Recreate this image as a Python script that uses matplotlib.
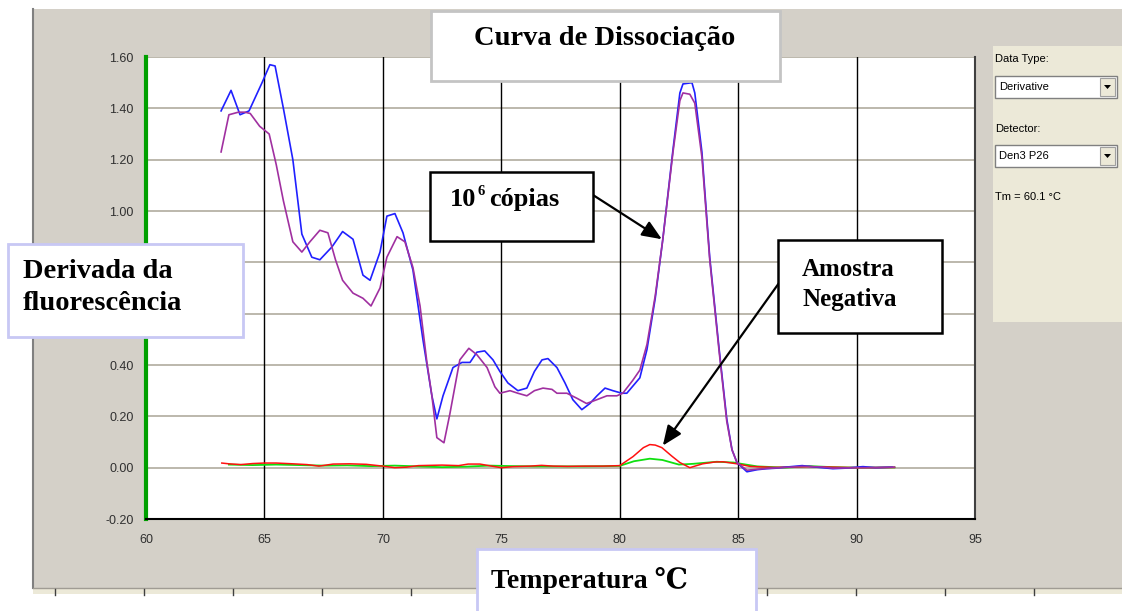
import matplotlib.pyplot as plt
from matplotlib.patches import Rectangle, Polygon

# melt curve derivative, 10^6 copies (two replicates)
temp_a = [63.17, 63.59, 63.97, 64.35, 64.9, 65.23, 65.45, 65.8, 66.2, 66.58, 67.0, 67.34,
          67.85, 68.3, 68.74, 69.16, 69.46, 69.88, 70.17, 70.51, 70.85, 71.27, 71.69, 72.07,
          72.28, 72.54, 72.96, 73.34, 73.68, 73.97, 74.3, 74.65, 74.94, 75.28, 75.7, 76.08,
          76.4, 76.72, 76.97, 77.35, 77.69, 78.02, 78.4, 78.74, 79.04, 79.38, 79.71, 80.09,
          80.3, 80.85, 81.15, 81.5, 81.82, 82.25, 82.54, 82.67, 83.05, 83.17, 83.47, 83.8,
          84.2, 84.52, 84.74, 84.95, 85.37, 85.8, 86.2, 86.6, 87.0, 87.7, 88.2, 89.0, 89.5,
          90.27, 90.8, 91.5]
deriv_a = [1.39, 1.47, 1.375, 1.39, 1.50, 1.57, 1.565, 1.40, 1.20, 0.91, 0.82, 0.81,
           0.86, 0.92, 0.89, 0.75, 0.73, 0.84, 0.98, 0.99, 0.915, 0.77, 0.50, 0.28,
           0.19, 0.28, 0.39, 0.41, 0.41, 0.45, 0.455, 0.42, 0.375, 0.33, 0.30, 0.31,
           0.375, 0.42, 0.425, 0.39, 0.33, 0.265, 0.226, 0.25, 0.28, 0.31, 0.30, 0.29,
           0.29, 0.35, 0.46, 0.66, 0.89, 1.24, 1.46, 1.495, 1.50, 1.46, 1.23, 0.82,
           0.46, 0.19, 0.07, 0.02, -0.016, -0.008, -0.004, -0.002, 0.002, 0.008, 0.003, -0.004, -0.002,
           0.004, 0.0, 0.002]

temp_b = [63.17, 63.5, 63.9, 64.18, 64.4, 64.8, 65.2, 65.5, 65.8, 66.2, 66.58, 66.92,
          67.34, 67.68, 68.0, 68.3, 68.74, 69.16, 69.5, 69.88, 70.17, 70.6, 70.93, 71.27,
          71.57, 71.86, 72.07, 72.28, 72.58, 72.83, 73.25, 73.63, 73.97, 74.4, 74.73, 74.94,
          75.37, 75.7, 76.08, 76.4, 76.76, 77.14, 77.35, 77.77, 78.2, 78.6, 79.04, 79.46,
          79.88, 80.13, 80.55, 80.85, 81.15, 81.5, 81.82, 82.25, 82.54, 82.67, 82.96, 83.17,
          83.47, 83.8, 84.2, 84.52, 84.74, 84.95, 85.37, 85.8, 86.2, 87.0, 87.7, 88.5, 89.0,
          90.0, 90.8, 91.6]
deriv_b = [1.23, 1.375, 1.385, 1.385, 1.38, 1.33, 1.30, 1.18, 1.04, 0.88, 0.84, 0.88,
           0.925, 0.915, 0.81, 0.73, 0.68, 0.66, 0.63, 0.70, 0.82, 0.90, 0.88, 0.78,
           0.63, 0.41, 0.28, 0.117, 0.097, 0.21, 0.42, 0.465, 0.44, 0.39, 0.315, 0.29,
           0.30, 0.29, 0.28, 0.30, 0.31, 0.305, 0.29, 0.29, 0.27, 0.25, 0.265, 0.28,
           0.28, 0.29, 0.34, 0.38, 0.48, 0.67, 0.89, 1.23, 1.43, 1.46, 1.455, 1.42,
           1.21, 0.81, 0.45, 0.18, 0.07, 0.02, -0.01, -0.006, -0.003, 0.001, 0.005, 0.003, -0.002,
           0.0, 0.0, 0.002]

# negative sample (two replicates)
temp_c = [63.2, 63.5, 64.0, 64.5, 65.0, 65.5, 66.2, 66.8, 67.3, 67.9, 68.6, 69.3, 70.0,
          70.5, 71.0, 71.5, 72.5, 73.2, 73.6, 74.1, 74.6, 75.0, 75.5, 76.2, 76.7, 77.2,
          77.8, 78.5, 79.3, 80.0, 80.56, 81.0, 81.27, 81.5, 81.78, 82.2, 82.54, 82.96,
          83.5, 84.0, 84.36, 84.95, 85.5, 86.5, 88.0, 90.0, 91.6]
deriv_c = [0.018, 0.015, 0.012, 0.016, 0.018, 0.018, 0.015, 0.012, 0.006, 0.014, 0.015, 0.013, 0.006,
           0.0, 0.002, 0.008, 0.01, 0.008, 0.014, 0.014, 0.006, 0.0, 0.004, 0.006, 0.009, 0.006,
           0.005, 0.006, 0.006, 0.008, 0.043, 0.078, 0.09, 0.088, 0.078, 0.045, 0.02, 0.0,
           0.015, 0.022, 0.023, 0.015, 0.005, 0.001, 0.004, 0.0, 0.001]

temp_d = [63.5, 64.5, 65.5, 66.5, 67.5, 68.5, 69.5, 70.5, 71.5, 72.5, 73.5, 74.5, 75.5,
          76.5, 77.5, 78.5, 79.5, 80.0, 80.6, 81.27, 81.8, 82.5, 83.1, 84.1, 84.8, 85.8,
          87.0, 88.0, 89.0, 90.0, 91.6]
deriv_d = [0.012, 0.01, 0.012, 0.01, 0.008, 0.009, 0.006, 0.008, 0.005, 0.002, 0.004, 0.008, 0.006,
           0.005, 0.005, 0.005, 0.006, 0.007, 0.025, 0.035, 0.03, 0.012, 0.015, 0.023, 0.02, 0.005,
           0.0, 0.006, 0.002, 0.0, 0.001]

x_ticks = [60, 65, 70, 75, 80, 85, 90, 95]
y_ticks = [-0.20, 0.00, 0.20, 0.40, 0.60, 0.80, 1.00, 1.20, 1.40, 1.60]
# 0.60 and 0.80 sit under the y-axis caption box
y_hidden = [0.60, 0.80]

W, H = 1122, 611
fig = plt.figure(figsize=(W / 100, H / 100), dpi=100)


def px_axes(x0, y0, x1, y1):
    return [x0 / W, 1 - y1 / H, (x1 - x0) / W, (y1 - y0) / H]


# window background, drawn in pixel units
bg = fig.add_axes([0, 0, 1, 1], zorder=0)
bg.set_xlim(0, W)
bg.set_ylim(H, 0)
bg.axis('off')
bg.add_patch(Rectangle((33, 9), W - 33, 579, facecolor='#d4d0c8', edgecolor='none'))
bg.plot([33, 33], [9, 588], color='#808080', lw=1.5)
bg.plot([33, W], [588, 588], color='#a09c94', lw=1)
bg.add_patch(Rectangle((33, 589), W - 33, 5, facecolor='#ece9d8', edgecolor='none'))
for xs in range(55, W, 89):
    bg.plot([xs, xs], [589, 595], color='#404040', lw=1)

# side panel with the dropdowns
bg.add_patch(Rectangle((993, 46), 129, 276, facecolor='#ece9d8', edgecolor='none'))
pfont = dict(family='Liberation Sans', fontsize=8, color='#000000')
bg.text(995, 59, 'Data Type:', va='center', ha='left', **pfont)
bg.text(995, 129, 'Detector:', va='center', ha='left', **pfont)
bg.text(995, 197, 'Tm = 60.1 °C', va='center', ha='left', **pfont)
for y0, label in [(76, 'Derivative'), (145, 'Den3 P26')]:
    bg.add_patch(Rectangle((995, y0), 122, 22, facecolor='white', edgecolor='#808080', lw=1))
    bg.add_patch(Rectangle((1100, y0 + 2), 15, 18, facecolor='#ece9d8', edgecolor='#a0a0a0', lw=0.8))
    bg.add_patch(Polygon([(1104, y0 + 9), (1111, y0 + 9), (1107.5, y0 + 13)], closed=True,
                         facecolor='black', edgecolor='none'))
    bg.text(999, y0 + 11, label, va='center', ha='left', **pfont)

# main chart
ax = fig.add_axes(px_axes(146, 57, 975, 519), zorder=1)
ax.set_facecolor('white')
ax.set_xlim(60, 95)
ax.set_ylim(-0.20, 1.60)
ax.set_xticks(x_ticks)
ax.set_yticks(y_ticks)
ax.set_yticklabels(['' if v in y_hidden else '%.2f' % v for v in y_ticks])
for v in y_ticks[1:]:
    ax.axhline(v, color='#bcb8ac', lw=1.4, zorder=1)
for v in x_ticks[1:-1]:
    ax.axvline(v, color='black', lw=1, zorder=1)
ax.tick_params(length=0, labelsize=9, labelcolor='#303030')
ax.tick_params(axis='x', pad=11)
ax.tick_params(axis='y', pad=9)
for lab in ax.get_xticklabels() + ax.get_yticklabels():
    lab.set_family('Liberation Sans')
ax.spines['left'].set_color('#00a000')
ax.spines['left'].set_linewidth(3)
ax.spines['bottom'].set_color('black')
ax.spines['bottom'].set_linewidth(1.5)
ax.spines['right'].set_color('#404040')
ax.spines['right'].set_linewidth(1.5)
ax.spines['top'].set_visible(False)

ax.plot(temp_d, deriv_d, color='#10e010', lw=1.3, zorder=3)
ax.plot(temp_c, deriv_c, color='#ff1010', lw=1.1, zorder=3)
ax.plot(temp_a, deriv_a, color='#2020ff', lw=1.2, zorder=4)
ax.plot(temp_b, deriv_b, color='#a030a0', lw=1.2, zorder=4)

# text boxes and arrows on top
ov = fig.add_axes([0, 0, 1, 1], zorder=2)
ov.set_xlim(0, W)
ov.set_ylim(H, 0)
ov.axis('off')
ov.patch.set_alpha(0)

serif = dict(family=['Liberation Serif', 'DejaVu Serif'], fontweight='bold', color='black')


def box(x0, y0, x1, y1, edge, lw):
    ov.add_patch(Rectangle((x0, y0), x1 - x0, y1 - y0, facecolor='white', edgecolor=edge,
                           lw=lw, clip_on=False))


box(431, 11, 780, 81, '#c4c4c4', 2)
ov.text(605, 45, 'Curva de Dissociação', ha='center', va='baseline', fontsize=20.5, **serif)

box(8, 244, 243, 337, '#c8c8f4', 2)
ov.text(23, 278, 'Derivada da', ha='left', va='baseline', fontsize=20.5, **serif)
ov.text(23, 310, 'fluorescência', ha='left', va='baseline', fontsize=20.5, **serif)

box(430, 172, 593, 241, 'black', 1.8)
ov.text(450, 206, '10', ha='left', va='baseline', fontsize=19, **serif)
ov.text(478, 195, '6', ha='left', va='baseline', fontsize=10.5, **serif)
ov.text(489, 206, 'cópias', ha='left', va='baseline', fontsize=19, **serif)

box(778, 240, 942, 333, 'black', 1.8)
ov.text(848, 276, 'Amostra', ha='center', va='baseline', fontsize=18, **serif)
ov.text(850, 306, 'Negativa', ha='center', va='baseline', fontsize=18, **serif)

box(477, 549, 756, 620, '#c8c8f4', 2)
ov.text(491, 588, 'Temperatura ℃', ha='left', va='baseline', fontsize=20, **serif)

arrow = dict(arrowstyle='-|>,head_length=1.2,head_width=0.5', color='black', lw=1.6,
             shrinkA=0, shrinkB=0)
ax.annotate('', xy=(81.78, 0.89), xycoords='data', xytext=(593, 195),
            textcoords=ov.transData, arrowprops=arrow, zorder=5)
ax.annotate('', xy=(81.82, 0.086), xycoords='data', xytext=(779, 283),
            textcoords=ov.transData, arrowprops=arrow, zorder=5)

fig.savefig('out.png', dpi=100)
